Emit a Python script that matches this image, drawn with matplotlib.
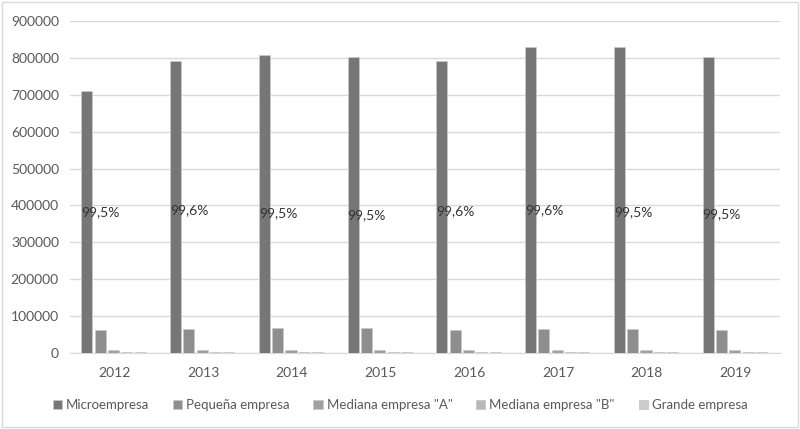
import numpy as np
import matplotlib.pyplot as plt

years = ['2012', '2013', '2014', '2015', '2016', '2017', '2018', '2019']
series = ['Microempresa', 'Pequeña empresa', 'Mediana empresa "A"',
          'Mediana empresa "B"', 'Grande empresa']
micro = [710000, 791000, 808000, 802000, 791000, 829000, 829000, 802000]
pequena = [62000, 65000, 69000, 68000, 62000, 65000, 65000, 62000]
mediana_a = [8000, 8000, 8500, 8500, 8000, 8000, 8500, 8000]
mediana_b = [4000, 4000, 4200, 4200, 4000, 4000, 4200, 4000]
grande = [2200, 2300, 2400, 2400, 2300, 2300, 2400, 2300]
micro_share = ['99,5%', '99,6%', '99,5%', '99,5%', '99,6%', '99,6%', '99,5%', '99,5%']

# where the share labels sit on the y axis
label_y = [382000, 387000, 379000, 374000, 385000, 387000, 382000, 377000]

colors = ['#767676', '#8e8e8e', '#a0a0a0', '#b8b8b8', '#cdcdcd']
plt.rcParams['font.family'] = ['Lato', 'DejaVu Sans']

fig = plt.figure(figsize=(8, 4.29), dpi=100)
ax = fig.add_axes([0.0875, 0.177, 0.8875, 0.774])

x = np.arange(len(years))
pitch = 0.15
width = 0.125
shift = -0.01
values = [micro, pequena, mediana_a, mediana_b, grande]
for i, (name, vals) in enumerate(zip(series, values)):
    ax.bar(x + (i - 2) * pitch + shift, vals, width, color=colors[i],
           edgecolor='#c8c8c8', linewidth=0.6, label=name, zorder=3)

for xi, txt, yy in zip(x, micro_share, label_y):
    ax.text(xi - 2 * pitch + shift - width / 2, yy, txt, ha='left', va='center',
            fontsize=10, color='#333333', zorder=4)

ax.set_xlim(-0.5, len(years) - 0.5)
ax.set_ylim(0, 900000)
ax.set_yticks(np.arange(0, 900001, 100000))
ax.set_xticks(x)
ax.set_xticklabels(years)
ax.grid(axis='y', color='#d9d9d9', linewidth=1, zorder=0)
for s in ['top', 'right', 'left']:
    ax.spines[s].set_visible(False)
ax.spines['bottom'].set_color('#d9d9d9')
ax.tick_params(axis='both', length=0, labelsize=10, colors='#595959', pad=8)
ax.tick_params(axis='x', pad=10)

leg = fig.legend(loc='center', bbox_to_anchor=(0.5, 0.055), ncol=5, frameon=False,
                 fontsize=9.5, handlelength=0.7, handleheight=0.7, handletextpad=0.3,
                 columnspacing=1.8)
for t in leg.get_texts():
    t.set_color('#595959')

# outer chart border
fig.add_artist(plt.Rectangle((0.003, 0.005), 0.994, 0.99, transform=fig.transFigure,
                             fill=False, edgecolor='#d9d9d9', linewidth=1))

fig.savefig('out.png', dpi=100)
